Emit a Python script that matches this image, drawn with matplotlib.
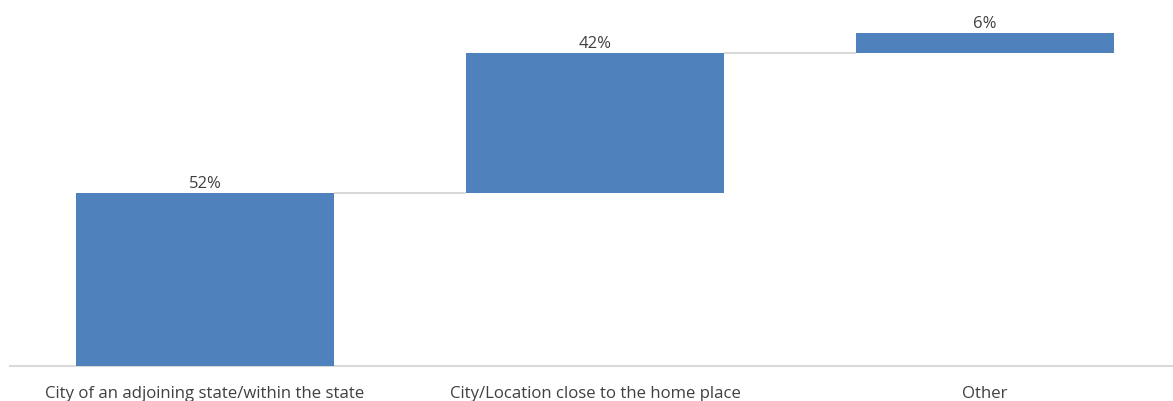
import matplotlib.pyplot as plt
from matplotlib.transforms import blended_transform_factory

categories = ["City of an adjoining state/within the state",
              "City/Location close to the home place",
              "Other"]
values = [52, 42, 6]
value_labels = ["52%", "42%", "6%"]

bar_color = "#4f81bd"
line_color = "#d9d9d9"
text_color = "#404040"

fig = plt.figure(figsize=(11.73, 4.01), dpi=100)
ax = fig.add_axes([10 / 1173, 35 / 401, 1170 / 1173, 366 / 401])

x = range(len(categories))
bottoms = []
running = 0
for v in values:
    bottoms.append(running)
    running += v

width = 0.66
ax.bar(x, values, bottom=bottoms, width=width, color=bar_color, zorder=3)

# connectors between consecutive bars at the running total
for i in range(len(values) - 1):
    level = bottoms[i] + values[i]
    ax.plot([i + width / 2, i + 1 - width / 2], [level, level],
            color=line_color, lw=1.5, zorder=2, solid_capstyle="butt")

for i, (b, v, lab) in enumerate(zip(bottoms, values, value_labels)):
    ax.text(i, b + v + 1.5, lab, ha="center", va="baseline",
            fontsize=12, color=text_color, family="Open Sans")

# category names sit under the axis line, partly below the figure edge
trans = blended_transform_factory(ax.transData, fig.transFigure)
for i, cat in enumerate(categories):
    ax.text(i, 3 / 401, cat, transform=trans, ha="center", va="baseline",
            fontsize=12.1, color=text_color, family="Open Sans", clip_on=False)

ax.set_xlim(-0.5, len(categories) - 0.5)
ax.set_ylim(0, 110)
ax.set_xticks([])
ax.set_yticks([])
for s in ["top", "right", "left"]:
    ax.spines[s].set_visible(False)
ax.spines["bottom"].set_color(line_color)
ax.spines["bottom"].set_linewidth(1.5)

fig.savefig("out.png", dpi=100)
